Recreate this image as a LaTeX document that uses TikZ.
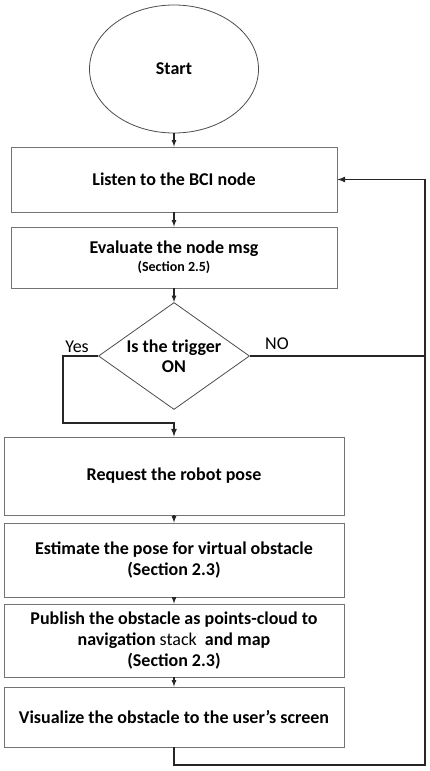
\documentclass[tikz,border=0pt]{standalone}
\usepackage{fontspec}
\setmainfont{Carlito}
\usepackage{tikz}
\usetikzlibrary{positioning,arrows,calc}
\usetikzlibrary{shapes.geometric}
\tikzset{stepbox/.style={draw=black!55,line width=0.9pt,rectangle,align=center,
    font=\fontsize{18}{21}\selectfont\bfseries},
  flow/.style={line width=1.2pt,black!85},
  back/.style={line width=1.6pt,black!85}
}

\begin{document}
\begin{tikzpicture}[>=latex,x=1pt,y=1pt]
	\useasboundingbox (0,0) rectangle (429,-771);
	\node[draw=black!70,line width=0.8pt,ellipse,minimum width=169,minimum height=128,font=\fontsize{18}{21}\selectfont\bfseries] (start) at (174,-69) {Start};
	\node[stepbox,minimum width=326,minimum height=65] (listen) at (174,-179.5) {Listen to the BCI node};
	\node[stepbox,minimum width=326,minimum height=61] (eval) at (174,-257.5) {Evaluate the node msg\\[-3pt]{\fontsize{14}{16}\selectfont(Section 2.5)}};
	\node[draw=black!70,line width=0.8pt,diamond,shape aspect=1.41,inner sep=-1pt,minimum width=151,minimum height=107,align=center,font=\fontsize{18}{20}\selectfont\bfseries] (trig) at (174,-356) {Is the trigger\\ON};
	\node[font=\fontsize{18}{21}\selectfont] (yes) at (77,-347) {Yes};
	\node[font=\fontsize{18}{21}\selectfont] (no) at (277,-344) {NO};
	\node[stepbox,minimum width=340,minimum height=78] (pose) at (174,-476) {Request the robot pose};
	\node[stepbox,minimum width=340,minimum height=74] (est) at (174,-560) {Estimate the pose for virtual obstacle\\(Section 2.3)};
	\node[stepbox,minimum width=340,minimum height=73] (pub) at (174,-640.5) {Publish the obstacle as points-cloud to\\navigation {\mdseries stack} \ and map\\(Section 2.3)};
	\node[stepbox,minimum width=340,minimum height=60] (vis) at (174,-717) {Visualize the obstacle to the user's screen};
	\coordinate (yesC) at (63,-423);
	\coordinate (loopL) at (174,-765);
	\coordinate (loopR) at (425,-765);
	\draw [->,flow] (start) -- (listen);
	\draw [->,flow] (listen) -- (eval);
	\draw [->,flow] (eval) -- (trig);
	\draw [->,back] (trig.west) -| (yesC) -| (pose.north);
	\draw [back] (trig.east) -- (trig.east -| loopR);
	\draw [->,flow] (pose) -- (est);
	\draw [->,flow] (est) -- (pub);
	\draw [->,flow] (pub) -- (vis);
	\draw [->,back] (vis.south) -- (loopL) -- (loopR) |- (listen.east);
\end{tikzpicture}
\end{document}
